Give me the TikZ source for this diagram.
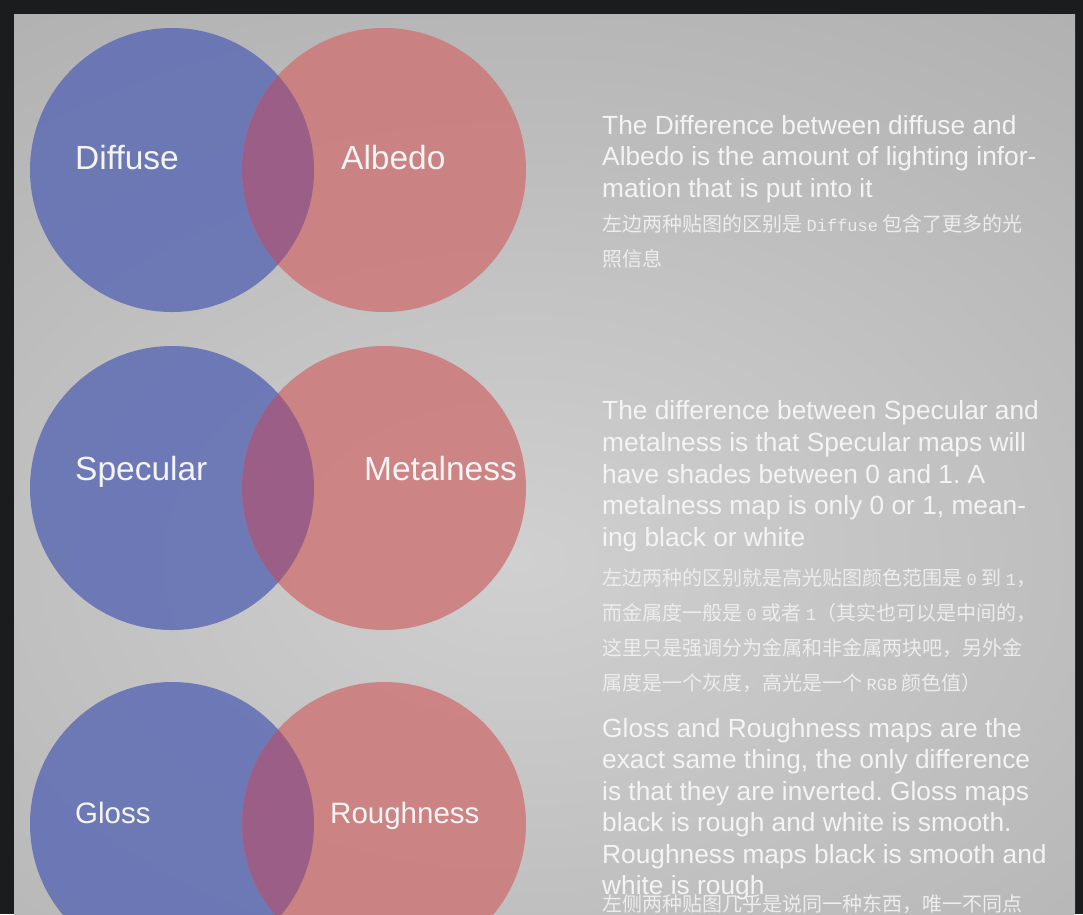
\documentclass[tikz,border=0pt]{standalone}
\usepackage{fontspec}
\setmainfont{Liberation Sans}
\newfontfamily\cjk{Noto Sans CJK SC}
\newfontfamily\monofont{Liberation Mono}
\definecolor{frame}{HTML}{1B1C1E}
\definecolor{bgin}{HTML}{D0D0D0}
\definecolor{bgout}{HTML}{989696}
\definecolor{vblue}{HTML}{5E6DB4}
\definecolor{vred}{HTML}{CD7878}
\definecolor{vmix}{HTML}{9B5F87}
\definecolor{txt}{HTML}{F4F4F4}
\definecolor{cjktxt}{HTML}{EDEDED}
\pgfdeclareradialshading{bgshade}{\pgfpoint{0bp}{0bp}}{color(0bp)=(bgin); color(40bp)=(bgout); color(50bp)=(bgout)}
\tikzset{
  bluecircle/.style={fill=vblue, fill opacity=0.85},
  redcircle/.style={fill=vred, fill opacity=0.85},
  mixfill/.style={fill=vmix},
  biglabel/.style={anchor=base west, inner sep=0pt, text=txt, font=\fontsize{33.5}{40}\selectfont},
  smalllabel/.style={anchor=base west, inner sep=0pt, text=txt, font=\fontsize{29.5}{36}\selectfont},
  engline/.style={anchor=base west, inner sep=0pt, text=txt, font=\frenchspacing\fontsize{26.3}{31.6}\selectfont},
  cjkline/.style={anchor=base west, inner sep=0pt, text=cjktxt, font=\cjk\fontsize{20}{35}\selectfont},
}
\newcommand{\mlat}[1]{{\monofont\fontsize{17}{20}\selectfont #1}}
\begin{document}
\begin{tikzpicture}[x=1pt, y=-1pt]
\useasboundingbox (0,0) rectangle (1083,914);
\fill[frame] (0,0) rectangle (1083,914);
\begin{scope}
  \clip (14,14) rectangle (1075,914);
  \shade[shading=bgshade] (520-1125,560-775) rectangle (520+1125,560+775);
  \foreach \cy in {170,488,824}{
    \fill[bluecircle] (172,\cy) circle[radius=142pt];
    \fill[redcircle] (384,\cy) circle[radius=142pt];
    \begin{scope}
      \clip (172,\cy) circle[radius=142pt];
      \fill[mixfill] (384,\cy) circle[radius=142pt];
    \end{scope}
  }
\end{scope}
% circle labels
\node[biglabel] (diffuse) at (75,169) {Diffuse};
\node[biglabel] (albedo) at (341,169) {Albedo};
\node[biglabel] (specular) at (75,480) {Specular};
\node[biglabel] (metalness) at (364,480) {Metalness};
\node[smalllabel] (gloss) at (75,823) {Gloss};
\node[smalllabel] (roughness) at (330,823) {Roughness};
% block 1
\node[engline] (t1a) at (602,134) {The Difference between diffuse and};
\node[engline] (t1b) at (602,165.5) {Albedo is the amount of lighting infor-};
\node[engline] (t1c) at (602,197) {mation that is put into it};
\node[cjkline] (c1a) at (602,231) {左边两种贴图的区别是 \mlat{Diffuse} 包含了更多的光};
\node[cjkline] (c1b) at (602,266) {照信息};
% block 2
\node[engline] (t2a) at (602,419) {The difference between Specular and};
\node[engline] (t2b) at (602,451) {metalness is that Specular maps will};
\node[engline] (t2c) at (602,483) {have shades between 0 and 1. A};
\node[engline] (t2d) at (602,514.5) {metalness map is only 0 or 1, mean-};
\node[engline] (t2e) at (602,546) {ing black or white};
\node[cjkline] (c2a) at (602,585) {左边两种的区别就是高光贴图颜色范围是 \mlat{0} 到 \mlat{1}，};
\node[cjkline] (c2b) at (602,620) {而金属度一般是 \mlat{0} 或者 \mlat{1}（其实也可以是中间的，};
\node[cjkline] (c2c) at (602,655) {这里只是强调分为金属和非金属两块吧，另外金};
\node[cjkline] (c2d) at (602,690) {属度是一个灰度，高光是一个 \mlat{RGB} 颜色值）};
% block 3
\node[engline] (t3a) at (602,737) {Gloss and Roughness maps are the};
\node[engline] (t3b) at (602,768.5) {exact same thing, the only difference};
\node[engline] (t3c) at (602,800) {is that they are inverted. Gloss maps};
\node[engline] (t3d) at (602,831.5) {black is rough and white is smooth.};
\node[engline] (t3e) at (602,863) {Roughness maps black is smooth and};
\node[engline] (t3f) at (602,894) {white is rough};
\node[cjkline] (c3a) at (602,911) {左侧两种贴图几乎是说同一种东西，唯一不同点};
\end{tikzpicture}
\end{document}
